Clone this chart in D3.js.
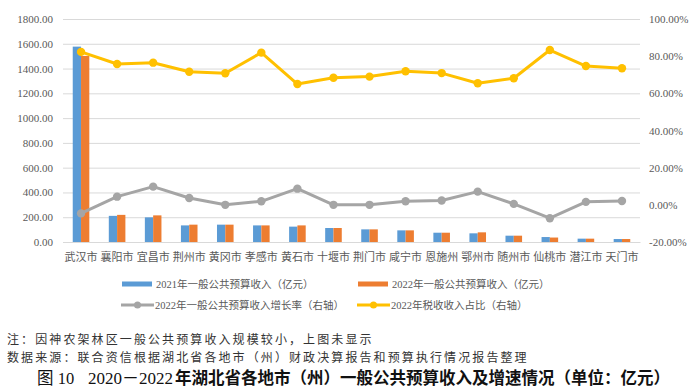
<!DOCTYPE html>
<html>
<head>
<meta charset="utf-8">
<script src="https://cdn.jsdelivr.net/npm/d3@7/dist/d3.min.js"></script>
<style>
  html, body { margin: 0; padding: 0; background: #fff; }
  svg { display: block; }
</style>
</head>
<body>
<svg id="chart" width="700" height="390"></svg>
<script>
const categories = ["武汉市","襄阳市","宜昌市","荆州市","黄冈市","孝感市","黄石市","十堰市","荆门市","咸宁市","恩施州","鄂州市","随州市","仙桃市","潜江市","天门市"];
const revenue2021 = [1577, 211, 199, 134, 140, 134, 124, 113, 102, 94, 75, 70, 51, 40, 27, 24];
const revenue2022 = [1502, 219, 215, 140, 140, 134, 134, 113, 102, 94, 75, 78, 51, 36, 27, 24];
const growth2022 = [-4.6, 4.4, 9.8, 3.7, 0.0, 1.9, 8.7, 0.0, 0.0, 1.9, 2.3, 7.1, 0.5, -7.2, 1.6, 2.1];
const taxShare2022 = [82.3, 75.8, 76.5, 71.6, 70.8, 81.9, 65.0, 68.4, 69.0, 71.9, 70.9, 65.4, 68.1, 83.3, 74.7, 73.5];
const leftTicks = [0, 200, 400, 600, 800, 1000, 1200, 1400, 1600, 1800];
const rightTicks = [-20, 0, 20, 40, 60, 80, 100];
const legendLabels = ["2021年一般公共预算收入（亿元）","2022年一般公共预算收入（亿元）","2022年一般公共预算收入增长率（右轴）","2022年税收收入占比（右轴）"];
const noteText = "注：因神农架林区一般公共预算收入规模较小，上图未显示";
const sourceText = "数据来源：联合资信根据湖北省各地市（州）财政决算报告和预算执行情况报告整理";

const C = { blue: "#5b9bd5", orange: "#ed7d31", gray: "#a5a5a5", yellow: "#ffc000", grid: "#d9d9d9", text: "#595959" };
const serif = "'Liberation Serif', 'Noto Sans CJK SC', serif";
const cjk = "'Noto Sans CJK SC', sans-serif";

const svg = d3.select("#chart");
const L = 63, R = 640, T = 19, B = 242;

const x = d3.scaleBand().domain(categories).range([L, R]).padding(0);
const y = d3.scaleLinear().domain([0, 1800]).range([B, T]);
const yR = d3.scaleLinear().domain([-20, 100]).range([B, T]);

// gridlines
const grid = svg.append("g").attr("transform", `translate(${L},0)`)
  .call(d3.axisLeft(y).tickValues(leftTicks).tickSize(-(R - L)).tickFormat(""));
grid.select(".domain").remove();
grid.selectAll("line").attr("stroke", C.grid).attr("stroke-width", 1);

// left axis labels
const ay = svg.append("g").attr("transform", `translate(${L},0)`)
  .call(d3.axisLeft(y).tickValues(leftTicks).tickSize(0).tickPadding(10).tickFormat(d3.format(".2f")));
ay.select(".domain").remove();
ay.selectAll("text").attr("font-family", serif).attr("font-size", 11).attr("fill", C.text);

// right axis labels
const ayR = svg.append("g").attr("transform", `translate(${R},0)`)
  .call(d3.axisRight(yR).tickValues(rightTicks).tickSize(0).tickPadding(9).tickFormat(d => d.toFixed(2).replace("\u2212","-") + "%"));
ayR.select(".domain").remove();
ayR.selectAll("text").attr("font-family", serif).attr("font-size", 11).attr("fill", C.text);

// bars
const bw = x.bandwidth() * 0.23;
const cx = d => x(d) + x.bandwidth() / 2;
svg.append("g").selectAll("rect").data(categories).join("rect")
  .attr("x", d => cx(d) - bw).attr("width", bw)
  .attr("y", (d, i) => y(revenue2021[i])).attr("height", (d, i) => B - y(revenue2021[i]))
  .attr("fill", C.blue);
svg.append("g").selectAll("rect").data(categories).join("rect")
  .attr("x", d => cx(d)).attr("width", bw)
  .attr("y", (d, i) => y(revenue2022[i])).attr("height", (d, i) => B - y(revenue2022[i]))
  .attr("fill", C.orange);

// x axis
const ax = svg.append("g").attr("transform", `translate(0,${B})`)
  .call(d3.axisBottom(x).tickSize(0).tickPadding(11));
ax.select(".domain").attr("stroke", C.grid);
ax.selectAll("text").attr("font-family", cjk).attr("font-size", 11).attr("fill", C.text);

// lines
function drawLine(vals, color) {
  const line = d3.line().x((d, i) => cx(categories[i])).y(d => yR(d));
  svg.append("path").datum(vals).attr("d", line).attr("fill", "none")
    .attr("stroke", color).attr("stroke-width", 3).attr("stroke-linejoin", "round");
  svg.append("g").selectAll("circle").data(vals).join("circle")
    .attr("cx", (d, i) => cx(categories[i])).attr("cy", d => yR(d)).attr("r", 4.2).attr("fill", color);
}
drawLine(growth2022, C.gray);
drawLine(taxShare2022, C.yellow);

// legend
const leg = svg.append("g");
const legPos = [[122, 284], [358, 284], [121, 305], [357, 305]];
const legColors = [C.blue, C.orange, C.gray, C.yellow];
legendLabels.forEach((lab, i) => {
  const [lx, ly] = legPos[i];
  if (i < 2) {
    leg.append("rect").attr("x", lx).attr("y", ly - 2.5).attr("width", 30).attr("height", 5).attr("fill", legColors[i]);
  } else {
    leg.append("line").attr("x1", lx).attr("x2", lx + 33).attr("y1", ly).attr("y2", ly)
      .attr("stroke", legColors[i]).attr("stroke-width", 3);
    leg.append("circle").attr("cx", lx + 16.5).attr("cy", ly).attr("r", 3.5).attr("fill", legColors[i]);
  }
  leg.append("text").attr("x", lx + 34).attr("y", ly).attr("dy", "0.36em")
    .attr("font-family", serif).attr("font-size", 10.5).attr("fill", C.text).text(lab);
});

// notes
svg.append("text").attr("x", 7).attr("y", 344).attr("font-family", cjk).attr("font-size", 12)
  .attr("letter-spacing", "2.1px").attr("fill", "#333").text(noteText);
svg.append("text").attr("x", 7).attr("y", 362).attr("font-family", cjk).attr("font-size", 12)
  .attr("letter-spacing", "2.1px").attr("fill", "#333").text(sourceText);

// title
const title = svg.append("text").attr("y", 384).attr("font-family", serif).attr("font-size", 16.5)
  .attr("fill", "#111");
title.append("tspan").attr("x", 37).text("图 10");
title.append("tspan").attr("x", 88).attr("font-size", 17).text("2020－2022");
title.append("tspan").attr("x", 175).attr("font-family", cjk).attr("font-weight", "bold").text("年湖北省各地市（州）一般公共预算收入及增速情况（单位：亿元）");
</script>
</body>
</html>
